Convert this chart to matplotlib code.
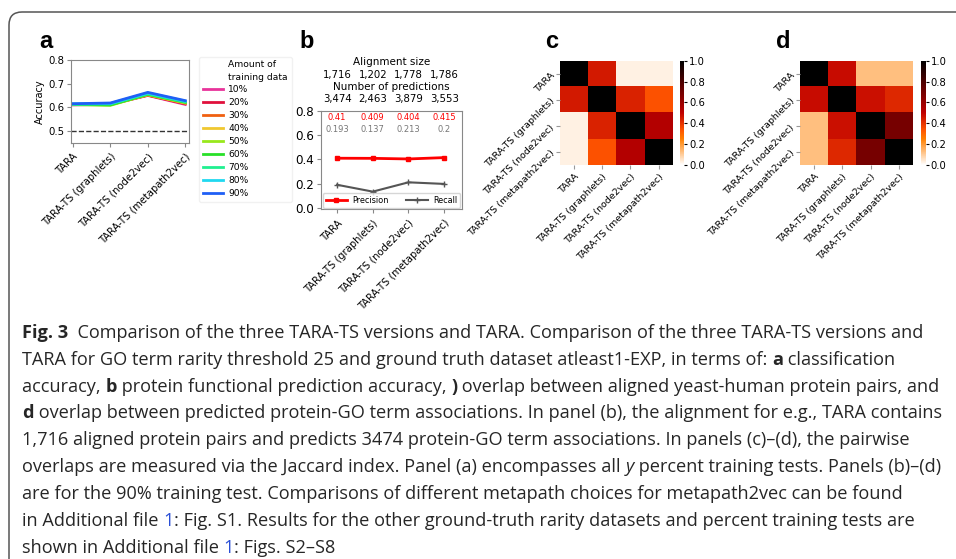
import numpy as np
import matplotlib
matplotlib.use("Agg")
import matplotlib.pyplot as plt
from matplotlib.lines import Line2D
from matplotlib.patches import FancyBboxPatch
import matplotlib.transforms as mtransforms

W, H = 956, 559

methods = ["TARA", "TARA-TS (graphlets)", "TARA-TS (node2vec)", "TARA-TS (metapath2vec)"]

# panel a: accuracy per amount of training data
train_pct = ["10%", "20%", "30%", "40%", "50%", "60%", "70%", "80%", "90%"]
acc_10 = [0.610, 0.612, 0.650, 0.612]
acc_20 = [0.611, 0.613, 0.651, 0.615]
acc_30 = [0.611, 0.612, 0.652, 0.617]
acc_40 = [0.612, 0.611, 0.653, 0.618]
acc_50 = [0.611, 0.608, 0.654, 0.620]
acc_60 = [0.612, 0.610, 0.655, 0.621]
acc_70 = [0.613, 0.614, 0.657, 0.623]
acc_80 = [0.614, 0.616, 0.660, 0.626]
acc_90 = [0.615, 0.618, 0.663, 0.628]
line_colors = ["#e8339a", "#e0103c", "#f06010", "#f0c830", "#98e81c",
               "#28e028", "#20f090", "#20d8f0", "#1f5ff5"]

# panel b
precision = [0.41, 0.409, 0.404, 0.415]
recall = [0.193, 0.137, 0.213, 0.2]
align_size = ["1,716", "1,202", "1,778", "1,786"]
n_pred = ["3,474", "2,463", "3,879", "3,553"]

# panels c, d: Jaccard overlaps
overlap_pairs = np.array([[1.00, 0.45, 0.03, 0.03],
                          [0.45, 1.00, 0.43, 0.34],
                          [0.03, 0.43, 1.00, 0.53],
                          [0.03, 0.34, 0.53, 1.00]])
overlap_go = np.array([[1.00, 0.48, 0.125, 0.125],
                       [0.48, 1.00, 0.47, 0.42],
                       [0.125, 0.47, 1.00, 0.69],
                       [0.125, 0.42, 0.69, 1.00]])

fig = plt.figure(figsize=(W / 100, H / 100), dpi=100)
fig.patch.set_facecolor("white")


def px_axes(left, top, right, bottom):
    return fig.add_axes([left / W, 1 - bottom / H, (right - left) / W, (bottom - top) / H])


def style_spines(ax):
    for s in ax.spines.values():
        s.set_color("#888888")
        s.set_linewidth(0.8)
    ax.tick_params(color="#888888", length=3)


x = np.arange(len(methods))

# ---- a
ax_a = px_axes(71, 60, 189, 142.7)
for vals, lab, col in zip([acc_10, acc_20, acc_30, acc_40, acc_50, acc_60, acc_70, acc_80, acc_90],
                          train_pct, line_colors):
    ax_a.plot(x, vals, color=col, lw=2, label=lab)
ax_a.axhline(0.5, color="#333333", ls="--", lw=1)
ax_a.set_ylim(0.45, 0.8)
ax_a.set_xlim(-0.05, 3.1)
ax_a.set_yticks([0.5, 0.6, 0.7, 0.8])
ax_a.tick_params(axis="y", labelsize=7.3, pad=2)
ax_a.set_xticks(x)
ax_a.set_xticklabels(methods, rotation=45, ha="right", rotation_mode="anchor", fontsize=7.2)
ax_a.set_ylabel("Accuracy", fontsize=7, labelpad=2)
style_spines(ax_a)
h, l = ax_a.get_legend_handles_labels()
blank = Line2D([], [], color="none")
leg = ax_a.legend([blank] + h, ["Amount of\ntraining data"] + l, loc="upper left",
                  bbox_to_anchor=(1.085, 1.04), borderaxespad=0, fontsize=6.6, labelspacing=0.43,
                  handlelength=2.2, handletextpad=0.6, borderpad=0.4, edgecolor="#eeeeee")
leg.get_texts()[0].set_linespacing(1.45)

# ---- b
ax_b = px_axes(321, 110.5, 462, 209)
ax_b.plot(x, precision, color="red", marker="s", ms=3.5, lw=2, label="Precision")
ax_b.plot(x, recall, color="#555555", marker="+", ms=4, lw=1.5, label="Recall")
ax_b.set_ylim(-0.005, 0.8)
ax_b.set_xlim(-0.45, 3.5)
ax_b.set_yticks([0.0, 0.2, 0.4, 0.6, 0.8])
ax_b.tick_params(axis="y", labelsize=8.6, pad=2)
ax_b.set_xticks(x)
ax_b.set_xticklabels(methods, rotation=45, ha="right", rotation_mode="anchor", fontsize=7.2)
style_spines(ax_b)
bt = mtransforms.blended_transform_factory(ax_b.transData, ax_b.transAxes)
for i in range(len(methods)):
    ax_b.text(i, 0.93, str(precision[i]), color="red", fontsize=6, ha="center", va="center", transform=bt)
    ax_b.text(i, 0.81, str(recall[i]), color="#777777", fontsize=6, ha="center", va="center", transform=bt)
    ax_b.text(i, 1.36, align_size[i], fontsize=7.3, ha="center", va="center", transform=bt)
    ax_b.text(i, 1.115, n_pred[i], fontsize=7.3, ha="center", va="center", transform=bt)
ax_b.text(0.5, 1.49, "Alignment size", fontsize=7.5, ha="center", va="center", transform=ax_b.transAxes)
ax_b.text(0.5, 1.24, "Number of predictions", fontsize=7.5, ha="center", va="center", transform=ax_b.transAxes)
ax_b.legend(loc="lower center", ncol=2, fontsize=5.9, columnspacing=2.1, handlelength=2.6,
            handletextpad=0.7, borderpad=0.35, borderaxespad=0.15, edgecolor="#cccccc")


# ---- c, d
def heat(left, right, cb_left, cb_right, data):
    ax = px_axes(left, 60.7, right, 165)
    im = ax.imshow(data, cmap="gist_heat_r", vmin=0, vmax=1, aspect="auto")
    for s in ax.spines.values():
        s.set_visible(False)
    ax.set_xticks(x)
    ax.set_yticks(x)
    ax.set_xticklabels(methods, rotation=45, ha="right", rotation_mode="anchor", fontsize=6.8)
    ax.set_yticklabels(methods, rotation=45, ha="right", va="center", rotation_mode="anchor", fontsize=6.8)
    ax.tick_params(length=3, color="#999999", pad=2)
    cax = px_axes(cb_left, 60.7, cb_right, 165)
    cb = fig.colorbar(im, cax=cax)
    cb.outline.set_visible(False)
    cb.set_ticks([0.0, 0.2, 0.4, 0.6, 0.8, 1.0])
    cax.tick_params(labelsize=7.2, length=2, pad=1.5)
    return ax


heat(560, 672.7, 680, 684.5, overlap_pairs)
heat(800, 913, 920.7, 925.7, overlap_go)

# panel letters
for letter, lx in zip("abcd", [39.5, 299, 545.5, 776]):
    fig.text(lx / W, 1 - 48 / H, letter, fontsize=17, fontweight="bold",
             family=["Liberation Sans", "DejaVu Sans"], va="baseline", ha="left")

# frame
fig.add_artist(FancyBboxPatch((0.09, -0.4), 9.9, (H - 12) / 100 + 0.4,
                              boxstyle="round,pad=0,rounding_size=0.13",
                              transform=fig.dpi_scale_trans, fill=False,
                              ec="#555555", lw=1.1))

# caption
cap_font = ["Open Sans", "DejaVu Sans"]
cap_size = 13.05
caption = [
    [("Fig. 3", "b"), ("  Comparison of the three TARA-TS versions and TARA. Comparison of the three TARA-TS versions and", "")],
    [("TARA for GO term rarity threshold 25 and ground truth dataset atleast1-EXP, in terms of: ", ""), ("a", "b"), (" classification", "")],
    [("accuracy, ", ""), ("b", "b"), (" protein functional prediction accuracy, ", ""), (")", "b"),
     (" overlap between aligned yeast-human protein pairs, and", "")],
    [("d", "b"), (" overlap between predicted protein-GO term associations. In panel (b), the alignment for e.g., TARA contains", "")],
    [("1,716 aligned protein pairs and predicts 3474 protein-GO term associations. In panels (c)\u2013(d), the pairwise", "")],
    [("overlaps are measured via the Jaccard index. Panel (a) encompasses all ", ""), ("y", "i"),
     (" percent training tests. Panels (b)\u2013(d)", "")],
    [("are for the 90% training test. Comparisons of different metapath choices for metapath2vec can be found", "")],
    [("in Additional file ", ""), ("1", "blue"), (": Fig. S1. Results for the other ground-truth rarity datasets and percent training tests are", "")],
    [("shown in Additional file ", ""), ("1", "blue"), (": Figs. S2\u2013S8", "")],
]

renderer = fig.canvas.get_renderer()


def part_kw(kind):
    kw = dict(family=cap_font, fontsize=cap_size, color="#262626")
    if kind == "b":
        kw["fontweight"] = "bold"
    if kind == "i":
        kw["fontstyle"] = "italic"
    if kind == "blue":
        kw["color"] = "#2a4fd6"
    return kw


def advance(s, kw):
    t = fig.text(0, 0, "|" + s + "|", **kw)
    w1 = t.get_window_extent(renderer).width
    t.set_text("||")
    w2 = t.get_window_extent(renderer).width
    t.remove()
    return w1 - w2


for n, parts in enumerate(caption):
    base = 337.8 + n * 26.9
    xp = 22
    for s, kind in parts:
        kw = part_kw(kind)
        fig.text(xp / W, 1 - base / H, s, va="baseline", ha="left", **kw)
        xp += advance(s, kw)

fig.savefig("out.png", dpi=100)
